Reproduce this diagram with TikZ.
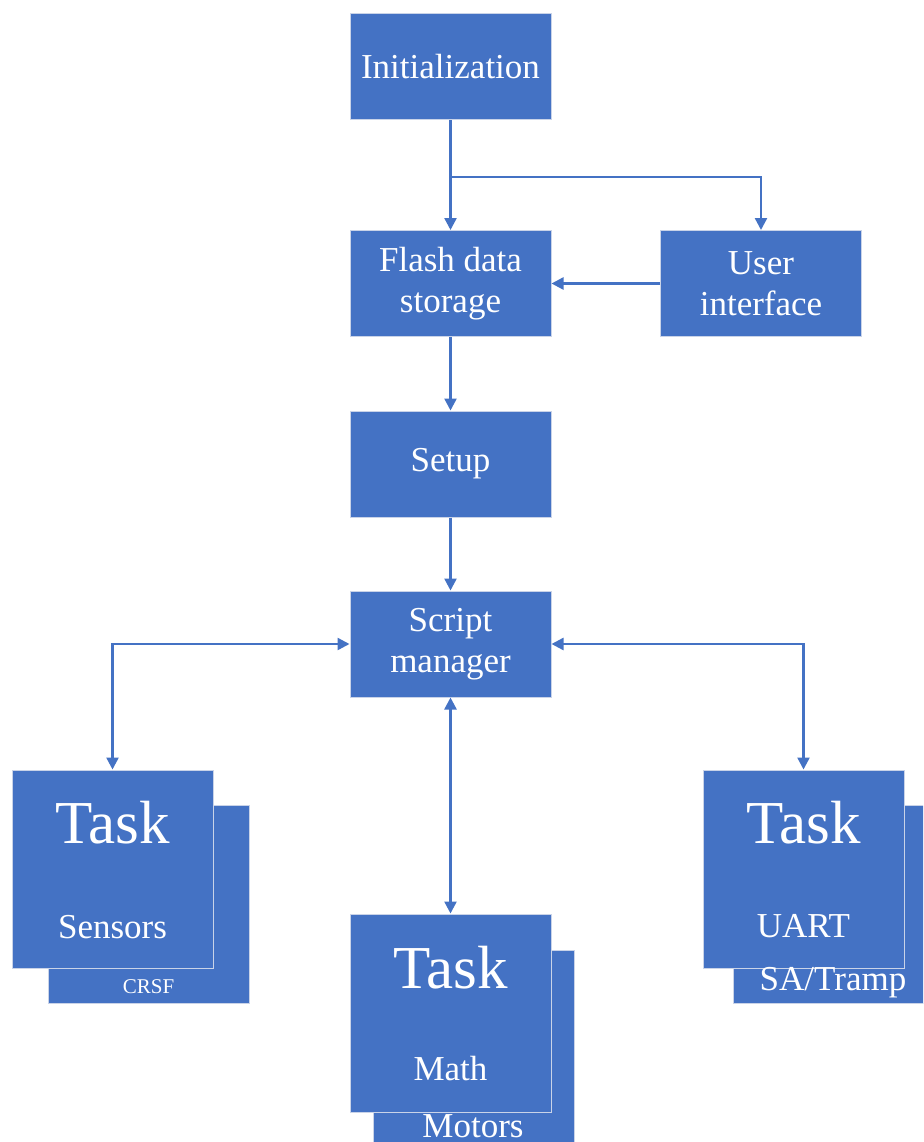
\documentclass[tikz,border=0pt]{standalone}
\usepackage{fontspec}
\setmainfont{Liberation Serif}
\usetikzlibrary{arrows.meta}
\definecolor{obl}{HTML}{4472C4}
\definecolor{edgec}{HTML}{C9D3E8}
\begin{document}
\begin{tikzpicture}[x=1pt,y=-1pt,
  box/.style={draw=edgec,line width=1pt,fill=obl,minimum width=201pt,minimum height=106pt,inner sep=0pt,text=white,font=\fontsize{35}{41}\selectfont,align=center},
  tbox/.style={draw=edgec,line width=1pt,fill=obl,minimum width=201pt,minimum height=198pt,inner sep=0pt},
  conn/.style={draw=obl,line width=2.4pt,-{Triangle[length=12pt,width=12pt]}},
  both/.style={draw=obl,line width=2.4pt,{Triangle[length=12pt,width=12pt]}-{Triangle[length=12pt,width=12pt]}},
  big/.style={text=white,font=\fontsize{61}{61}\selectfont,inner sep=0pt,anchor=base},
  mid/.style={text=white,font=\fontsize{35}{35}\selectfont,inner sep=0pt,anchor=base},
  small/.style={text=white,font=\fontsize{21}{21}\selectfont,inner sep=0pt,anchor=base},
]
\useasboundingbox (0,0) rectangle (923,1142);
\clip (0,0) rectangle (923,1142);
\fill[white] (0,0) rectangle (923,1142);

% main boxes
\node[box] (init) at (450.5,67) {Initialization};
\node[box] (flash) at (450.5,283.5) {Flash data\\storage};
\node[box] (ui) at (761,283.5) {User\\interface};
\node[box] (setup) at (450.5,464) {Setup};
\node[box] (script) at (450.5,644) {Script\\manager};

% task stacks
\node[tbox] (sensB) at (148.5,904.5) {};
\node[tbox] (sensF) at (112.5,869) {};
\node[big] (sensT) at (112.5,843) {Task};
\node[mid] (sensS) at (112.5,938) {Sensors};
\node[small] (sensC) at (148.5,993) {CRSF};

\node[tbox] (mathB) at (473.5,1049) {};
\node[tbox] (mathF) at (450.5,1013) {};
\node[big] (mathT) at (450.5,988) {Task};
\node[mid] (mathS) at (450.5,1080) {Math};
\node[mid] (mathC) at (473,1137) {Motors};

\node[tbox] (uartB) at (833.5,904.5) {};
\node[tbox] (uartF) at (803.5,869) {};
\node[big] (uartT) at (803.5,843) {Task};
\node[mid] (uartS) at (803.5,937) {UART};
\node[mid] (uartC) at (833,990) {SA/Tramp};

% connectors
\coordinate (br) at (450.5,177);
\draw[conn] (init.south) -- (flash.north);
\draw[conn] (br) -| (ui.north);
\draw[conn] (ui.west) -- (flash.east);
\draw[conn] (flash.south) -- (setup.north);
\draw[conn] (setup.south) -- (script.north);
\draw[both] (script.west) -| (sensF.north);
\draw[both] (script.east) -| (uartF.north);
\draw[both] (script.south) -- (mathF.north);
\end{tikzpicture}
\end{document}
